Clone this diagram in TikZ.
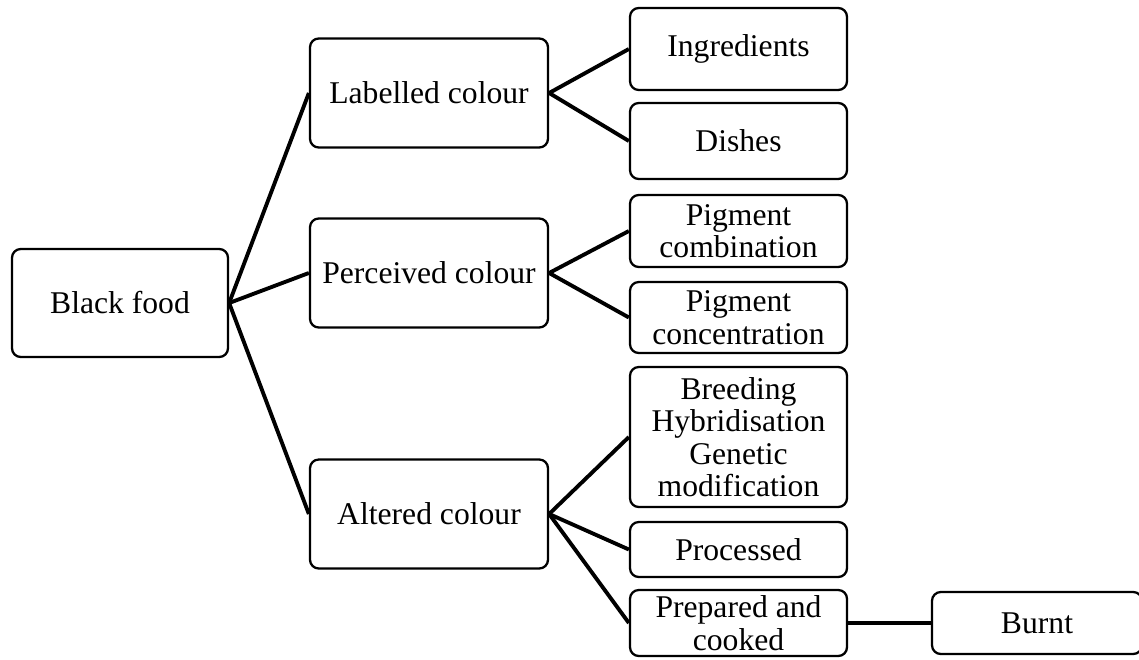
\documentclass[tikz,border=0pt]{standalone}
\usepackage{fontspec}
\setmainfont{Liberation Serif}
\usepackage{xcolor}
\usepackage{tikz}
\definecolor{BFLine}{HTML}{000000}
\definecolor{BFFill}{HTML}{FFFFFF}

\begin{document}
\begin{tikzpicture}[x=1cm,y=1cm,
  catbox/.style={draw=BFLine,fill=BFFill,line width=1.3pt,rounded corners=5pt,
    inner sep=0pt,align=center,font=\fontsize{18pt}{18.5pt}\selectfont},
  midbox/.style={catbox,minimum width=4.76cm,minimum height=2.18cm},
  leafbox/.style={catbox,minimum width=4.34cm},
  branch/.style={draw=BFLine,line width=2.2pt}]
\path[use as bounding box] (0,0) rectangle (22.78,13.18);
% root
\node[catbox,minimum width=4.32cm,minimum height=2.16cm] (black) at (2.40,7.12) {Black food};
% second level
\node[midbox] (labelled) at (8.58,11.32) {Labelled colour};
\node[midbox] (perceived) at (8.58,7.72) {Perceived colour};
\node[midbox] (altered) at (8.58,2.90) {Altered colour};
% leaves
\node[leafbox,minimum height=1.64cm] (ingr) at (14.77,12.20) {Ingredients};
\node[leafbox,minimum height=1.52cm] (dishes) at (14.77,10.36) {Dishes};
\node[leafbox,minimum height=1.44cm] (pcomb) at (14.77,8.56) {Pigment\\combination};
\node[leafbox,minimum height=1.42cm] (pconc) at (14.77,6.83) {Pigment\\concentration};
\node[leafbox,minimum height=2.80cm] (breed) at (14.77,4.44) {Breeding\\Hybridisation\\Genetic\\modification};
\node[leafbox,minimum height=1.10cm] (proc) at (14.77,2.19) {Processed};
\node[leafbox,minimum height=1.32cm] (prep) at (14.77,0.72) {Prepared and\\cooked};
\node[catbox,minimum width=4.20cm,minimum height=1.24cm] (burnt) at (20.74,0.72) {Burnt};
% connectors
\foreach \b in {labelled,perceived,altered}
  \draw[branch] (black.east) -- (\b.west);
\foreach \l in {ingr,dishes}
  \draw[branch] (labelled.east) -- (\l.west);
\foreach \l in {pcomb,pconc}
  \draw[branch] (perceived.east) -- (\l.west);
\foreach \l in {breed,proc,prep}
  \draw[branch] (altered.east) -- (\l.west);
\draw[branch] (prep.east) -- (burnt.west);
\end{tikzpicture}
\end{document}
